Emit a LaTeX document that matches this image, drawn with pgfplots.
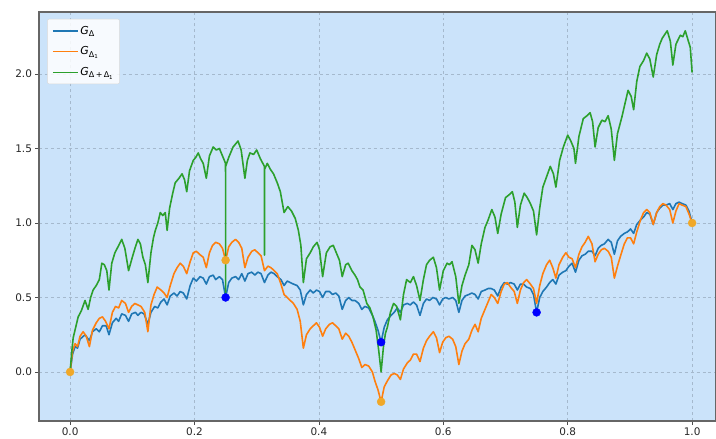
\documentclass[border=0pt]{standalone}
\usepackage{fontspec}
\setmainfont{DejaVu Sans}
\usepackage{pgfplots}
\pgfplotsset{compat=1.18}
\definecolor{bgc}{RGB}{203,227,250}
\definecolor{cblue}{HTML}{1F77B4}
\definecolor{corange}{HTML}{FF7F0E}
\definecolor{cgreen}{HTML}{2CA02C}
\definecolor{ptorange}{RGB}{240,168,40}
\definecolor{gridc}{RGB}{165,185,205}
\newcommand{\Gsub}[1]{\textit{G}\raisebox{-0.4ex}{\fontsize{8}{9}\selectfont #1}}
\newcommand{\one}{\raisebox{-0.3ex}{\fontsize{5.5}{6}\selectfont 1}}
\begin{document}
\begin{tikzpicture}[x=1bp,y=1bp]
\useasboundingbox (-39bp,-18bp) rectangle (677bp,421bp);
\begin{axis}[
  at={(0,0)}, anchor=south west,
  scale only axis, width=677bp, height=409bp,
  xmin=-0.05, xmax=1.0384, ymin=-0.329, ymax=2.416,
  axis background/.style={fill=bgc},
  axis line style={draw=black!60, line width=1.1pt},
  xtick={0,0.2,0.4,0.6,0.8,1.0},
  ytick={0,0.5,1.0,1.5,2.0},
  xticklabels={0.0,0.2,0.4,0.6,0.8,1.0},
  yticklabels={0.0,0.5,1.0,1.5,2.0},
  tick align=outside, tick pos=left,
  major tick length=3.5bp,
  tick style={black!70, line width=0.7pt},
  ticklabel style={font=\fontsize{10.5}{12}\selectfont, text=black!85},
  grid=major,
  major grid style={gridc, dashed, line width=0.5pt},
  legend style={at={(0.012,0.983)}, anchor=north west, fill=white, fill opacity=0.85, text opacity=1, draw=black!15, rounded corners=2pt, font=\fontsize{11}{12}\selectfont, row sep=7pt, inner xsep=5pt, inner ysep=5pt},
  legend cell align=left,
  legend image code/.code={\draw[#1, line width=1.2pt] (0bp,0bp) -- (25bp,0bp);},
  clip=true,
]
% markers (drawn first, under the lines)
\addplot[only marks, mark=*, mark size=4bp, draw=ptorange, fill=ptorange, forget plot] coordinates {(0,0) (0.25,0.75) (0.5,-0.2) (1,1)};
\addplot[only marks, mark=*, mark size=4bp, draw=blue, fill=blue, forget plot] coordinates {(0.25,0.5) (0.5,0.2) (0.75,0.4)};

\addplot[cblue, line width=1.6pt, line join=round] coordinates {
(0,0) (0.004,0.12) (0.008,0.17) (0.012,0.16) (0.016,0.22) (0.024,0.25) (0.031,0.21) (0.036,0.27) (0.042,0.29) (0.047,0.27) (0.052,0.31) (0.058,0.31) (0.0625,0.25) (0.068,0.33) (0.074,0.36) (0.078,0.34) (0.083,0.39) (0.089,0.38) (0.094,0.34) (0.099,0.39) (0.105,0.40) (0.109,0.38) (0.114,0.40) (0.119,0.39) (0.125,0.32) (0.13,0.40) (0.136,0.44) (0.141,0.43) (0.146,0.47) (0.151,0.49) (0.156,0.45) (0.161,0.51) (0.167,0.53) (0.172,0.51) (0.177,0.54) (0.182,0.53) (0.1875,0.49) (0.193,0.58) (0.198,0.63) (0.203,0.61) (0.209,0.64) (0.214,0.63) (0.219,0.59) (0.224,0.64) (0.23,0.65) (0.234,0.62) (0.24,0.64) (0.245,0.62) (0.25,0.50) (0.255,0.60) (0.26,0.63) (0.266,0.64) (0.271,0.62) (0.276,0.66) (0.281,0.61) (0.286,0.66) (0.292,0.67) (0.297,0.65) (0.302,0.67) (0.307,0.66) (0.3125,0.60) (0.318,0.65) (0.323,0.67) (0.328,0.66) (0.333,0.64) (0.339,0.62) (0.344,0.58) (0.349,0.61) (0.354,0.60) (0.359,0.59) (0.365,0.58) (0.37,0.55) (0.375,0.45) (0.38,0.52) (0.386,0.55) (0.391,0.53) (0.396,0.55) (0.401,0.54) (0.406,0.50) (0.411,0.54) (0.417,0.54) (0.422,0.52) (0.427,0.53) (0.432,0.51) (0.4375,0.42) (0.443,0.48) (0.448,0.50) (0.453,0.48) (0.458,0.48) (0.464,0.46) (0.469,0.42) (0.474,0.44) (0.48,0.43) (0.486,0.38) (0.49,0.34) (0.495,0.28) (0.5,0.20) (0.505,0.30) (0.51,0.35) (0.516,0.38) (0.521,0.40) (0.526,0.43) (0.531,0.40) (0.536,0.45) (0.542,0.46) (0.547,0.45) (0.552,0.47) (0.557,0.45) (0.5625,0.38) (0.568,0.46) (0.573,0.49) (0.578,0.48) (0.583,0.50) (0.589,0.49) (0.594,0.45) (0.599,0.49) (0.604,0.50) (0.609,0.49) (0.615,0.50) (0.62,0.48) (0.625,0.40) (0.63,0.48) (0.635,0.51) (0.641,0.52) (0.646,0.53) (0.651,0.52) (0.656,0.49) (0.661,0.54) (0.667,0.55) (0.672,0.56) (0.677,0.56) (0.682,0.55) (0.6875,0.51) (0.693,0.57) (0.698,0.60) (0.703,0.59) (0.708,0.60) (0.714,0.59) (0.719,0.55) (0.724,0.59) (0.729,0.59) (0.734,0.57) (0.74,0.56) (0.745,0.52) (0.75,0.40) (0.755,0.50) (0.76,0.54) (0.766,0.57) (0.771,0.60) (0.776,0.62) (0.781,0.59) (0.786,0.65) (0.792,0.67) (0.797,0.68) (0.802,0.71) (0.807,0.73) (0.8125,0.67) (0.818,0.75) (0.823,0.78) (0.828,0.79) (0.833,0.81) (0.839,0.81) (0.844,0.78) (0.849,0.83) (0.854,0.85) (0.859,0.86) (0.865,0.89) (0.87,0.87) (0.875,0.79) (0.88,0.88) (0.885,0.91) (0.891,0.93) (0.896,0.94) (0.901,0.96) (0.906,0.93) (0.911,0.99) (0.917,1.02) (0.922,1.04) (0.927,1.07) (0.932,1.06) (0.9375,0.99) (0.943,1.07) (0.948,1.10) (0.953,1.12) (0.958,1.12) (0.964,1.13) (0.969,1.09) (0.974,1.13) (0.979,1.14) (0.984,1.13) (0.99,1.12) (0.995,1.08) (1.0,1.0)
};
\addlegendentry{\Gsub{Δ}}

\addplot[corange, line width=1.6pt, line join=round] coordinates {
(0,0) (0.004,0.14) (0.008,0.19) (0.012,0.17) (0.016,0.24) (0.021,0.27) (0.026,0.24) (0.031,0.17) (0.036,0.28) (0.042,0.33) (0.047,0.36) (0.052,0.37) (0.057,0.34) (0.0625,0.29) (0.068,0.40) (0.073,0.44) (0.078,0.43) (0.083,0.48) (0.089,0.46) (0.094,0.40) (0.099,0.44) (0.104,0.46) (0.109,0.45) (0.114,0.44) (0.12,0.40) (0.125,0.27) (0.13,0.45) (0.135,0.52) (0.14,0.57) (0.146,0.55) (0.151,0.53) (0.156,0.50) (0.161,0.58) (0.167,0.66) (0.172,0.70) (0.177,0.73) (0.182,0.71) (0.1875,0.66) (0.193,0.74) (0.198,0.80) (0.203,0.81) (0.208,0.79) (0.214,0.77) (0.219,0.70) (0.224,0.80) (0.229,0.85) (0.234,0.87) (0.24,0.86) (0.245,0.83) (0.25,0.75) (0.255,0.84) (0.26,0.87) (0.266,0.89) (0.271,0.87) (0.276,0.83) (0.281,0.70) (0.286,0.77) (0.292,0.81) (0.297,0.82) (0.302,0.80) (0.307,0.78) (0.3125,0.68) (0.318,0.71) (0.323,0.70) (0.328,0.68) (0.333,0.66) (0.339,0.59) (0.344,0.52) (0.349,0.50) (0.354,0.48) (0.359,0.46) (0.365,0.42) (0.37,0.34) (0.375,0.16) (0.38,0.25) (0.386,0.29) (0.391,0.31) (0.396,0.33) (0.401,0.30) (0.406,0.24) (0.411,0.29) (0.417,0.32) (0.422,0.33) (0.427,0.31) (0.432,0.29) (0.4375,0.22) (0.443,0.26) (0.448,0.24) (0.453,0.20) (0.458,0.15) (0.464,0.09) (0.469,0.03) (0.474,0.05) (0.48,0.04) (0.486,0.00) (0.49,-0.06) (0.495,-0.12) (0.5,-0.20) (0.505,-0.10) (0.51,-0.06) (0.516,-0.02) (0.521,-0.01) (0.526,-0.02) (0.531,-0.05) (0.536,0.02) (0.542,0.06) (0.547,0.08) (0.552,0.12) (0.557,0.12) (0.5625,0.07) (0.568,0.16) (0.573,0.21) (0.578,0.24) (0.584,0.27) (0.589,0.23) (0.594,0.13) (0.599,0.20) (0.604,0.23) (0.609,0.24) (0.615,0.22) (0.62,0.17) (0.625,0.05) (0.63,0.14) (0.635,0.19) (0.641,0.22) (0.646,0.28) (0.651,0.32) (0.656,0.27) (0.661,0.36) (0.667,0.42) (0.672,0.47) (0.677,0.52) (0.682,0.50) (0.6875,0.46) (0.693,0.54) (0.698,0.59) (0.703,0.60) (0.708,0.57) (0.714,0.54) (0.719,0.46) (0.724,0.55) (0.729,0.60) (0.734,0.62) (0.74,0.59) (0.745,0.56) (0.75,0.46) (0.755,0.58) (0.76,0.66) (0.766,0.72) (0.771,0.75) (0.776,0.70) (0.781,0.63) (0.786,0.72) (0.792,0.77) (0.797,0.80) (0.802,0.77) (0.807,0.76) (0.8125,0.70) (0.818,0.79) (0.823,0.84) (0.828,0.87) (0.833,0.91) (0.839,0.86) (0.844,0.74) (0.849,0.79) (0.854,0.82) (0.859,0.83) (0.865,0.81) (0.87,0.77) (0.875,0.63) (0.88,0.71) (0.885,0.78) (0.891,0.86) (0.896,0.90) (0.901,0.90) (0.906,0.86) (0.911,0.94) (0.917,1.02) (0.922,1.07) (0.927,1.09) (0.932,1.07) (0.9375,0.99) (0.943,1.07) (0.948,1.11) (0.953,1.13) (0.958,1.12) (0.964,1.09) (0.969,1.00) (0.974,1.08) (0.979,1.13) (0.984,1.12) (0.99,1.11) (0.995,1.06) (1.0,1.0)
};
\addlegendentry{\Gsub{Δ\one}}

\addplot[cgreen, line width=1.6pt, line join=round] coordinates {
(0,0) (0.003,0.15) (0.005,0.23) (0.009,0.30) (0.013,0.37) (0.018,0.41) (0.024,0.48) (0.029,0.42) (0.033,0.50) (0.037,0.55) (0.042,0.58) (0.047,0.62) (0.051,0.73) (0.055,0.72) (0.059,0.68) (0.0625,0.55) (0.067,0.73) (0.072,0.80) (0.077,0.84) (0.083,0.89) (0.088,0.83) (0.094,0.68) (0.1,0.77) (0.105,0.84) (0.109,0.89) (0.113,0.86) (0.117,0.77) (0.121,0.72) (0.125,0.60) (0.13,0.80) (0.134,0.90) (0.137,0.95) (0.141,1.00) (0.145,1.07) (0.149,1.05) (0.153,1.07) (0.156,0.95) (0.16,1.10) (0.165,1.20) (0.169,1.27) (0.175,1.30) (0.18,1.33) (0.184,1.29) (0.1875,1.21) (0.192,1.35) (0.198,1.42) (0.202,1.44) (0.206,1.47) (0.21,1.43) (0.214,1.40) (0.219,1.30) (0.224,1.45) (0.23,1.51) (0.235,1.49) (0.24,1.50) (0.246,1.44) (0.2499,1.40) (0.25,0.53) (0.2501,1.38) (0.255,1.44) (0.262,1.51) (0.27,1.55) (0.275,1.49) (0.281,1.30) (0.285,1.42) (0.289,1.47) (0.295,1.46) (0.30,1.49) (0.306,1.43) (0.3124,1.38) (0.3125,0.785) (0.3126,1.36) (0.317,1.40) (0.322,1.36) (0.327,1.33) (0.333,1.27) (0.338,1.21) (0.344,1.07) (0.35,1.11) (0.356,1.08) (0.362,1.03) (0.367,0.95) (0.371,0.85) (0.375,0.60) (0.38,0.76) (0.386,0.80) (0.391,0.84) (0.397,0.87) (0.401,0.82) (0.406,0.64) (0.412,0.80) (0.418,0.84) (0.423,0.85) (0.428,0.80) (0.433,0.75) (0.4375,0.64) (0.443,0.72) (0.447,0.73) (0.453,0.68) (0.458,0.65) (0.462,0.62) (0.466,0.57) (0.471,0.55) (0.477,0.46) (0.482,0.43) (0.487,0.37) (0.492,0.28) (0.496,0.15) (0.5,0.0) (0.504,0.18) (0.507,0.26) (0.51,0.30) (0.515,0.40) (0.52,0.46) (0.525,0.44) (0.531,0.35) (0.536,0.52) (0.541,0.62) (0.547,0.60) (0.552,0.64) (0.557,0.58) (0.5625,0.48) (0.568,0.62) (0.573,0.72) (0.578,0.75) (0.584,0.77) (0.589,0.70) (0.594,0.55) (0.6,0.68) (0.606,0.73) (0.61,0.72) (0.614,0.74) (0.62,0.64) (0.625,0.46) (0.63,0.58) (0.635,0.65) (0.641,0.72) (0.646,0.85) (0.651,0.82) (0.656,0.73) (0.661,0.86) (0.667,0.97) (0.672,1.02) (0.678,1.09) (0.683,1.04) (0.6875,0.93) (0.693,1.06) (0.7,1.17) (0.706,1.19) (0.711,1.21) (0.715,1.14) (0.719,0.97) (0.724,1.12) (0.73,1.20) (0.735,1.17) (0.74,1.13) (0.745,1.08) (0.75,0.92) (0.755,1.10) (0.76,1.24) (0.766,1.31) (0.772,1.38) (0.777,1.33) (0.781,1.24) (0.787,1.42) (0.793,1.51) (0.8,1.59) (0.805,1.55) (0.81,1.50) (0.8125,1.40) (0.818,1.58) (0.825,1.70) (0.831,1.72) (0.836,1.74) (0.84,1.68) (0.844,1.51) (0.849,1.64) (0.855,1.69) (0.86,1.68) (0.865,1.72) (0.87,1.63) (0.875,1.42) (0.88,1.60) (0.887,1.71) (0.892,1.80) (0.897,1.89) (0.902,1.85) (0.906,1.76) (0.911,1.95) (0.916,2.05) (0.922,2.09) (0.927,2.14) (0.932,2.10) (0.9375,1.98) (0.943,2.13) (0.948,2.20) (0.952,2.24) (0.96,2.29) (0.965,2.22) (0.969,2.06) (0.974,2.20) (0.981,2.26) (0.985,2.25) (0.989,2.29) (0.994,2.22) (0.997,2.18) (1.0,2.01)
};
\addlegendentry{\Gsub{Δ\,+\,Δ\one}}
\end{axis}
\end{tikzpicture}
\end{document}
